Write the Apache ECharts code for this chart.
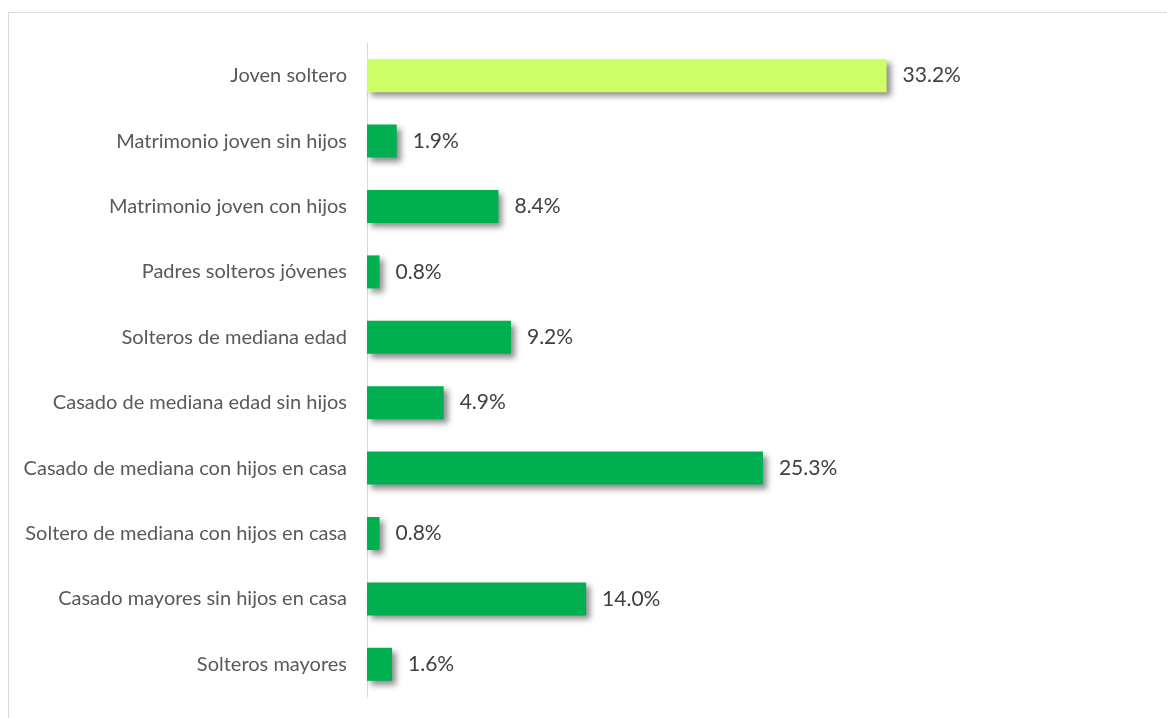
<!DOCTYPE html>
<html><head><meta charset="utf-8">
<script src="https://cdn.jsdelivr.net/npm/echarts@6/dist/echarts.min.js"></script>
<style>html,body{margin:0;padding:0;background:#fff}#c{width:1167px;height:718px}</style>
</head><body><div id="c"></div>
<script>
const categories = [
  "Joven soltero",
  "Matrimonio joven sin hijos",
  "Matrimonio joven con hijos",
  "Padres solteros jóvenes",
  "Solteros de mediana edad",
  "Casado de mediana edad sin hijos",
  "Casado de mediana con hijos en casa",
  "Soltero de mediana con hijos en casa",
  "Casado mayores sin hijos en casa",
  "Solteros mayores"
];
const values = [33.2, 1.9, 8.4, 0.8, 9.2, 4.9, 25.3, 0.8, 14.0, 1.6];
const highlightIndex = 0;

const chart = echarts.init(document.getElementById('c'));
chart.setOption({
  backgroundColor: '#fff',
  animation: false,
  graphic: [{
    type: 'rect', silent: true,
    shape: {x: 8.5, y: 12.5, width: 1300, height: 800},
    style: {fill: 'none', stroke: '#d9d9d9', lineWidth: 1}
  }],
  grid: {left: 367, top: 43, width: 626, height: 654, containLabel: false},
  xAxis: {type: 'value', min: 0, max: 40, show: false},
  yAxis: {
    type: 'category', inverse: true, data: categories,
    axisLine: {show: true, lineStyle: {color: '#d9d9d9', width: 1}},
    axisTick: {show: false},
    axisLabel: {color: '#595959', fontFamily: 'Lato', fontSize: 20, margin: 20}
  },
  series: [{
    type: 'bar',
    barWidth: 33,
    data: values.map((v, i) => ({
      value: v,
      itemStyle: {color: i === highlightIndex ? '#ccff66' : '#00b050'}
    })),
    itemStyle: {
      shadowColor: 'rgba(0,0,0,0.45)', shadowBlur: 6,
      shadowOffsetX: 4, shadowOffsetY: 4
    },
    label: {
      show: true, position: 'right', distance: 16,
      color: '#404040', fontFamily: 'Lato', fontSize: 21,
      formatter: p => p.value.toFixed(1) + '%'
    }
  }]
});
</script></body></html>
